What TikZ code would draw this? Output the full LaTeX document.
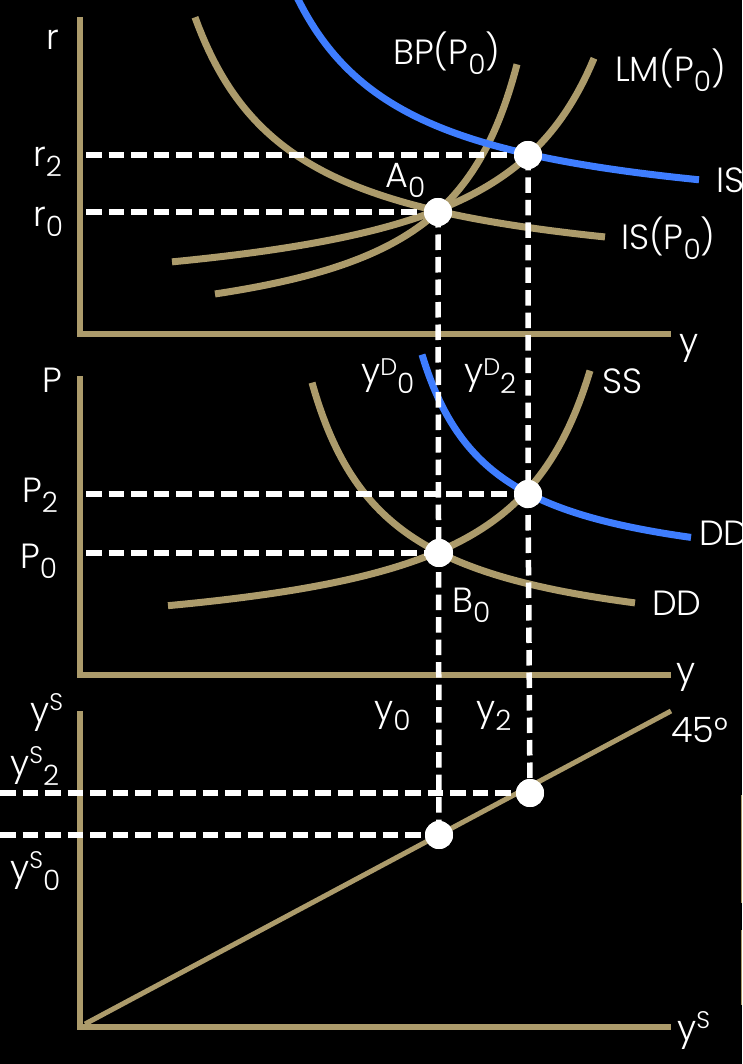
\documentclass[tikz,border=0pt]{standalone}
\usepackage{fontspec}
\setmainfont{Poppins}[UprightFont={* Light}]
\definecolor{axtan}{RGB}{172,155,107}
\definecolor{ablue}{RGB}{62,125,255}
\newcommand\lo[1]{\raisebox{-10pt}{\fontsize{28}{28}\selectfont #1}}
\newcommand\hi[2]{\raisebox{#1}{\fontsize{24}{24}\selectfont #2}}
\begin{document}
\begin{tikzpicture}[x=1pt,y=-1pt,
  axisline/.style={draw=axtan, line width=6.5pt, line join=miter},
  curve/.style={draw=axtan, line width=7pt},
  bcurve/.style={draw=ablue, line width=7pt},
  guide/.style={draw=white, line width=5.5pt, dash pattern=on 15.5pt off 7pt},
  eqpt/.style={circle, fill=white, minimum size=28pt, inner sep=0pt},
  lbl/.style={text=white, anchor=base west, inner sep=0pt, font=\fontsize{35}{35}\selectfont}]
\fill[black] (0,0) rectangle (742,1064);
\useasboundingbox (0,0) rectangle (742,1064);
\clip (0,0) rectangle (742,1064);

% axes
\coordinate (ta) at (80,17); \coordinate (to) at (80,334); \coordinate (tx) at (671,334);
\coordinate (ma) at (80,376); \coordinate (mo) at (80,675); \coordinate (mx) at (671,675);
\coordinate (ba) at (80,711); \coordinate (bo) at (80,1027); \coordinate (bx) at (671,1027);
\draw[axisline] (ta) -- (to) -- (tx);
\draw[axisline] (ma) -- (mo) -- (mx);
\draw[axisline] (ba) -- (bo) -- (bx);
\fill[axtan] (740.5,795) rectangle (742,903);
\fill[axtan] (740.5,930) rectangle (742,1005);

% top panel curves
\draw[curve] plot[domain=195:605, samples=120] (\x, {290 - 270/((\x-96)/100)});
\draw[curve] plot[domain=172:594, samples=120] (\x, {313 - 270/((700-\x)/100)});
\draw[curve] plot[domain=215:517, samples=120] (\x, {351 - 215/((592-\x)/100)});
\draw[bcurve] plot[domain=294:699, samples=120] (\x, {232 - 270/((\x-182)/100)});

% middle panel curves
\draw[curve] plot[domain=168:590, samples=120] (\x, {653 - 240/((675-\x)/100)});
\draw[curve] plot[domain=312:635, samples=120] (\x, {655.4 - 210/((\x-235)/100)});
\draw[bcurve] plot[domain=422:691, samples=120] (\x, {585 - 161.3/((\x-352)/100)});

% bottom panel 45 degree line
\coordinate (d0) at (85,1024); \coordinate (d1) at (671,711);
\draw[draw=axtan, line width=5pt] (d0) -- (d1);

% equilibrium points
\node[eqpt] (A0) at (438,212) {};
\node[eqpt] (A2) at (528,155) {};
\node[eqpt] (B0) at (439,553) {};
\node[eqpt] (B2) at (528,494) {};
\node[eqpt] (C0) at (439,835) {};
\node[eqpt] (C2) at (530,793) {};

% guide lines
\coordinate (r2L) at (86,155); \coordinate (r0L) at (86,212);
\coordinate (p2L) at (86,494); \coordinate (p0L) at (86,553);
\coordinate (s2L) at (0,793); \coordinate (s0L) at (0,835);
\draw[guide] (r2L) -- (A2.center);
\draw[guide] (r0L) -- (A0.center);
\draw[guide] (p2L) -- (B2.center);
\draw[guide] (p0L) -- (B0.center);
\draw[guide] (s2L) -- (C2.center);
\draw[guide] (s0L) -- (C0.center);
\draw[guide] (A0.center) -- (C0.center);
\draw[guide] (A2.center) -- (B2.center) -- (C2.center);

% redraw points on top
\foreach \p in {A0,A2,B0,B2,C0,C2} \fill[white] (\p.center) circle (14pt);

% top labels
\node[lbl] (lr) at (46,50) {r};
\node[lbl] (lr2) at (33,167) {r\lo{2}};
\node[lbl] (lr0) at (33,227) {r\lo{0}};
\node[lbl] (lbp) at (393,65) {BP(P\lo{0})};
\node[lbl] (llm) at (615,82) {LM(P\lo{0})};
\node[lbl] (lis) at (716,193) {IS};
\node[lbl] (la0) at (385,188) {A\lo{0}};
\node[lbl] (lisp) at (621,250) {IS(P\lo{0})};
\node[lbl] (ly1) at (679,353) {y};

% middle labels
\node[lbl] (lp) at (42,392) {P};
\node[lbl] (lp2) at (22,502) {P\lo{2}};
\node[lbl] (lp0) at (20,568) {P\lo{0}};
\node[lbl] (lyd0) at (361,383) {y\hi{8pt}{D}\lo{0}};
\node[lbl] (lyd2) at (464,383) {y\hi{8pt}{D}\lo{2}};
\node[lbl] (lss) at (602,393) {SS};
\node[lbl] (ldd) at (652,615) {DD};
\node[lbl] (lddb) at (699,545) {DD};
\node[lbl] (lb0) at (452,612) {B\lo{0}};
\node[lbl] (ly2) at (676,682) {y};

% bottom labels
\node[lbl] (lys) at (30,722) {y\hi{12pt}{S}};
\node[lbl] (lys2) at (10,775) {y\hi{12pt}{S}\lo{2}};
\node[lbl] (lys0) at (10,880) {y\hi{12pt}{S}\lo{0}};
\node[lbl] (ly0) at (374,720) {y\lo{0}};
\node[lbl] (ly2b) at (476,720) {y\lo{2}};
\node[lbl] (l45) at (671,742) {45°};
\node[lbl] (lys3) at (677,1040) {y\hi{12pt}{S}};
\end{tikzpicture}
\end{document}
